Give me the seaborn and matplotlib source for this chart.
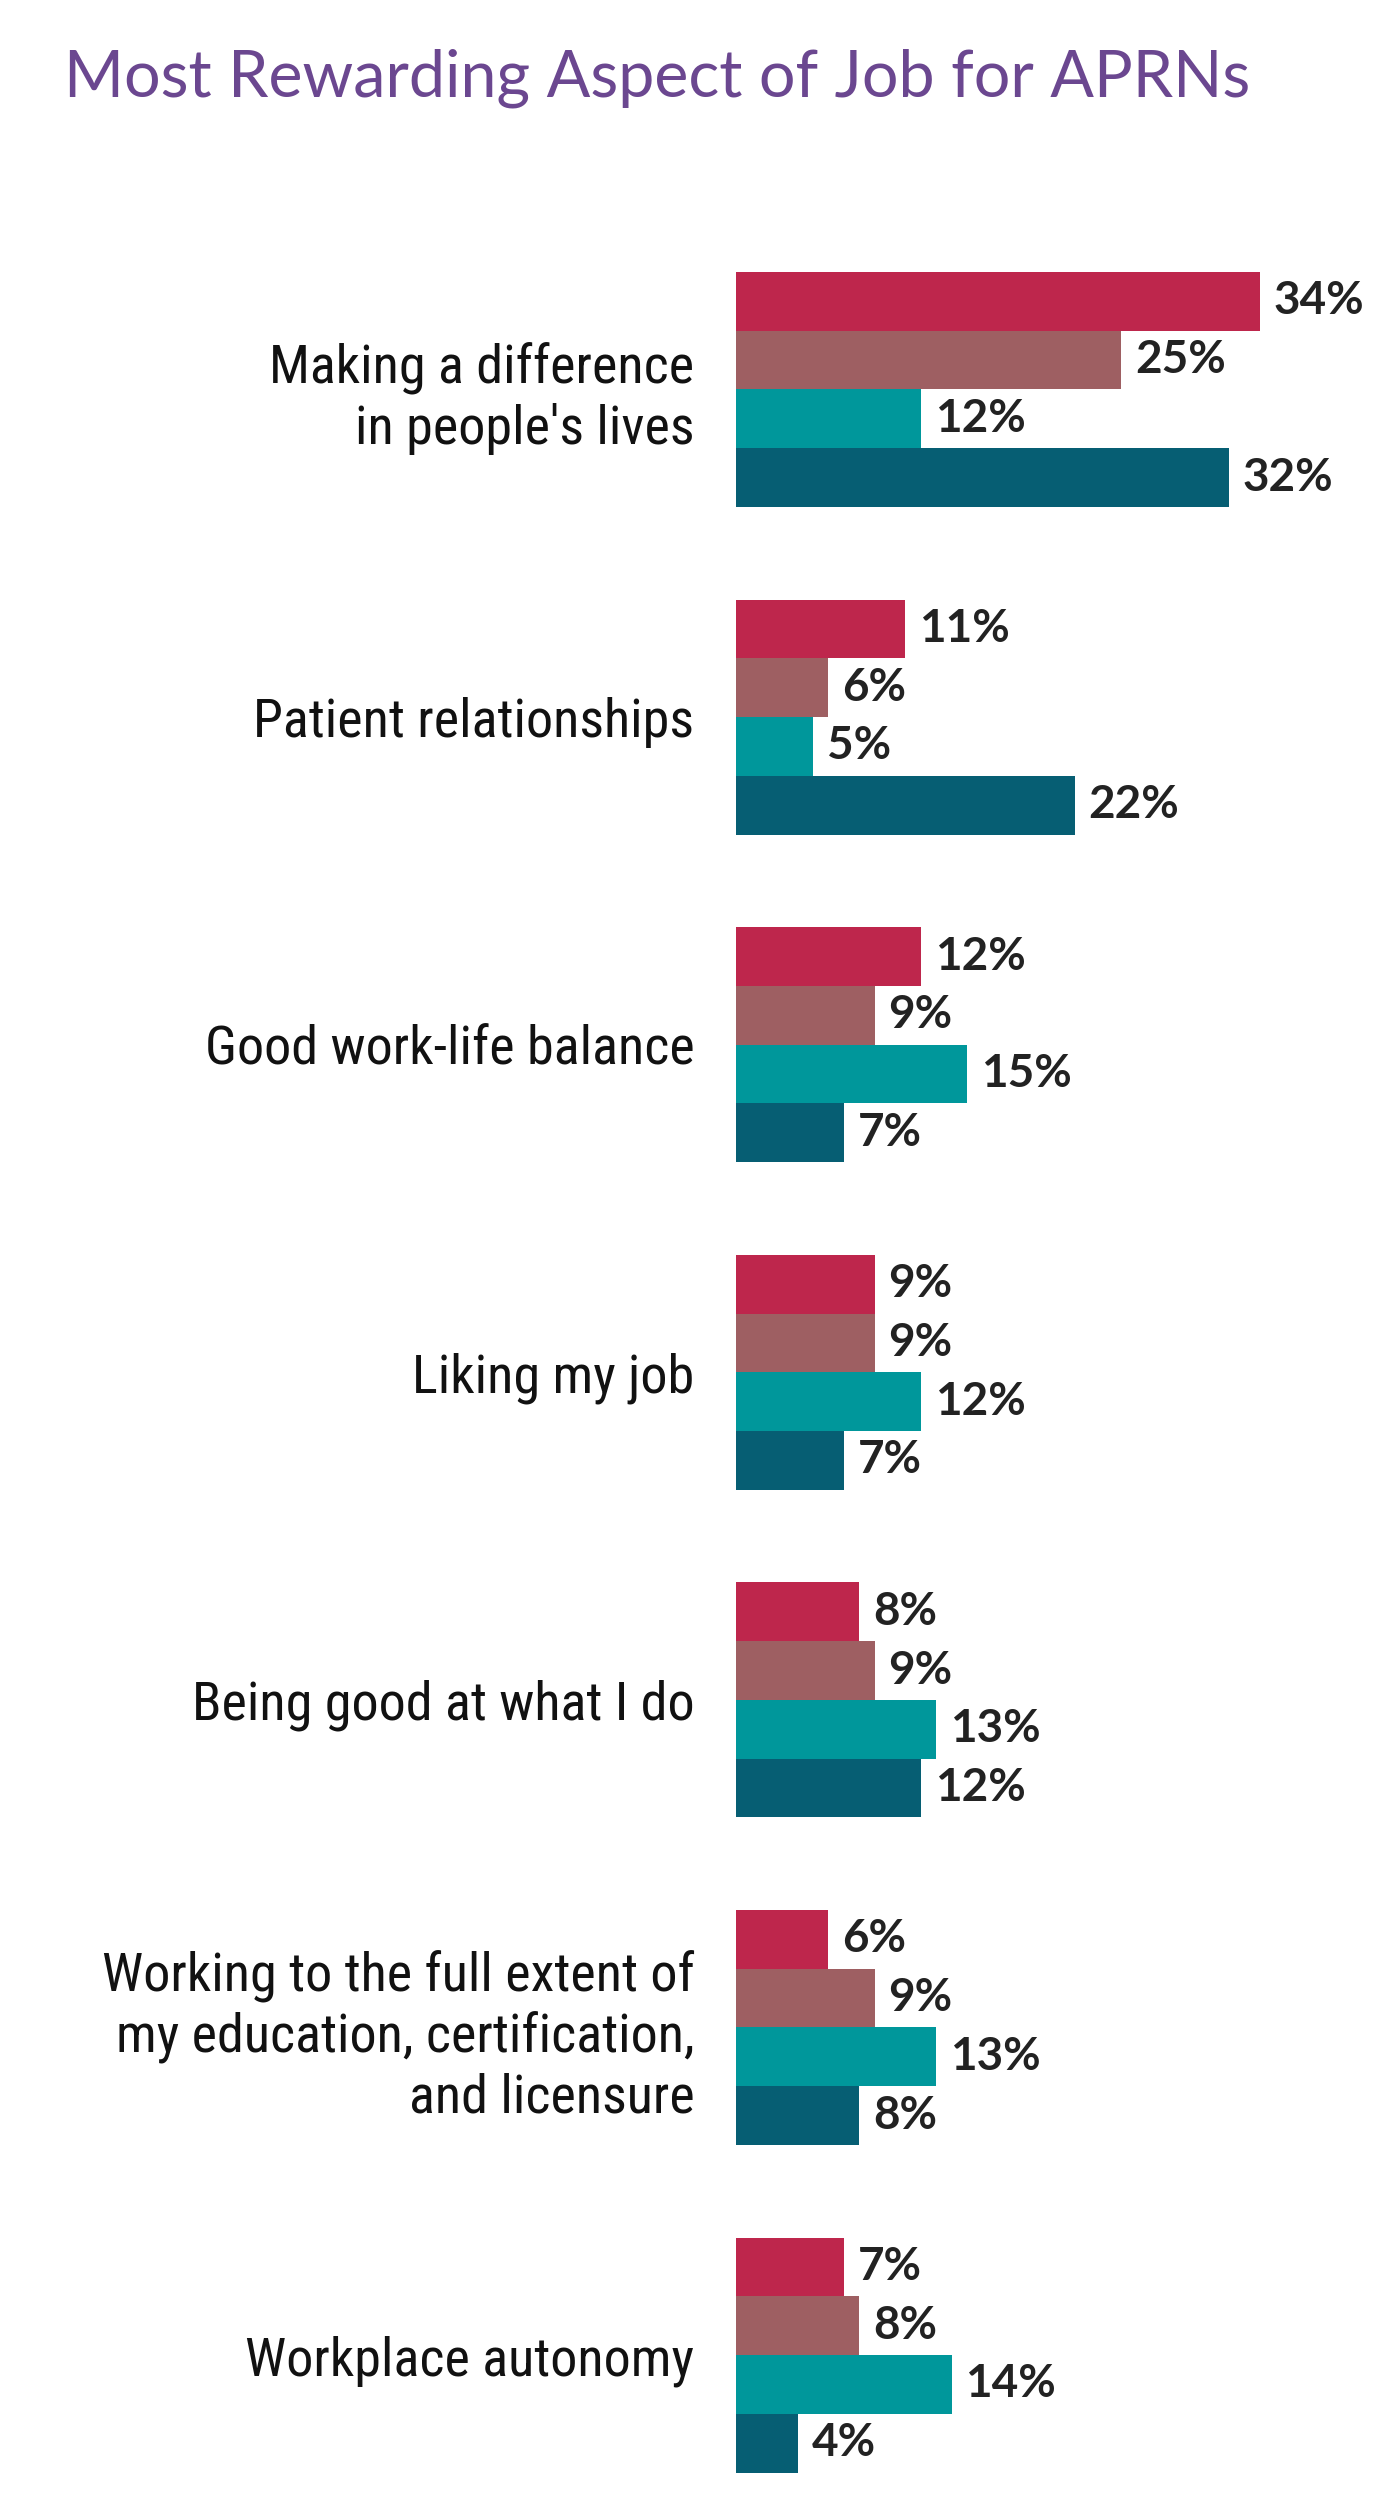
import matplotlib
matplotlib.use("Agg")
import matplotlib.pyplot as plt
import pandas as pd
import seaborn as sns

categories = [
    "Making a difference\nin people's lives",
    "Patient relationships",
    "Good work-life balance",
    "Liking my job",
    "Being good at what I do",
    "Working to the full extent of\nmy education, certification,\nand licensure",
    "Workplace autonomy",
]
series = ["Series 1", "Series 2", "Series 3", "Series 4"]
values = {
    "Series 1": [34, 11, 12, 9, 8, 6, 7],
    "Series 2": [25, 6, 9, 9, 9, 9, 8],
    "Series 3": [12, 5, 15, 12, 13, 13, 14],
    "Series 4": [32, 22, 7, 7, 12, 8, 4],
}
colors = ["#BE264C", "#9E5F62", "#00979B", "#065E73"]

rows = []
for s in series:
    for c, v in zip(categories, values[s]):
        rows.append({"category": c, "series": s, "value": v})
df = pd.DataFrame(rows)

sns.set_theme(style="white")
plt.rcParams["font.family"] = ["Lato", "DejaVu Sans"]

fig = plt.figure(figsize=(13.8, 25.13), dpi=100)
ax = fig.add_axes([0.5333, 0.0, 0.4464, 0.9102])

sns.barplot(data=df, x="value", y="category", hue="series", hue_order=series,
            order=categories, palette=colors, orient="h", width=0.717,
            saturation=1, linewidth=0, legend=False, ax=ax)

ax.set_xlim(0, 40)
ax.set_ylim(6.482, -0.5)

for cont in ax.containers:
    ax.bar_label(cont, labels=[f"{int(v)}%" for v in cont.datavalues],
                 padding=10, fontsize=33, fontweight="bold", color="#222222",
                 family=["Lato", "DejaVu Sans"])

ax.set_xlabel("")
ax.set_ylabel("")
ax.set_xticks([])
ax.tick_params(axis="y", length=0, pad=30)
for lab in ax.get_yticklabels():
    lab.set_fontsize(39)
    lab.set_family(["Roboto Condensed", "Roboto", "DejaVu Sans"])
    lab.set_color("#111111")
    lab.set_horizontalalignment("right")
    lab.set_linespacing(1.2)
for sp in ax.spines.values():
    sp.set_visible(False)

fig.text(64 / 1380, 1 - 97 / 2513, "Most Rewarding Aspect of Job for APRNs",
         fontsize=46.5, color="#6B4790", ha="left", va="baseline",
         family=["Lato", "DejaVu Sans"])

fig.savefig("out.png", dpi=100, facecolor="white")
